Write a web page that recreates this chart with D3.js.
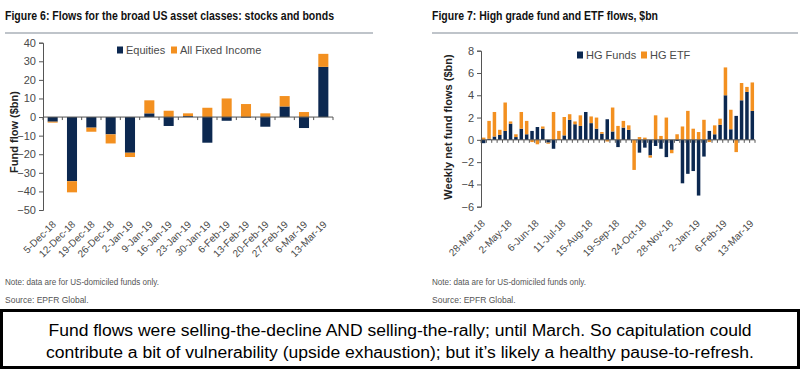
<!DOCTYPE html>
<html><head><meta charset="utf-8">
<script src="https://cdn.jsdelivr.net/npm/d3@7"></script>
<style>
body{margin:0;background:#fff;}
svg{display:block;}
text{font-family:"Liberation Sans Narrow","Arial Narrow","Liberation Sans",Arial,sans-serif;}
</style></head><body>
<svg id="c" width="800" height="370"></svg>
<script>
// ---------- Figure 6 data ----------
const leftCats = ["5-Dec-18","12-Dec-18","19-Dec-18","26-Dec-18","2-Jan-19","9-Jan-19","16-Jan-19","23-Jan-19","30-Jan-19","6-Feb-19","13-Feb-19","20-Feb-19","27-Feb-19","6-Mar-19","13-Mar-19"];
const equities    = [-2.5,-34.5,-5.7,-9.3,-19.2, 2.0,-4.8, 0.5,-13.8,-2.0,-0.3,-5.2, 5.7,-5.9,27.0];
const fixedIncome = [-0.5, -6.0,-2.2,-4.9, -2.3, 7.0, 3.4, 1.5,  5.0,10.0, 7.0, 2.0, 5.6, 2.7, 7.0];
const leftTicks = [40,30,20,10,0,-10,-20,-30,-40,-50];

// ---------- Figure 7 data ----------
const rightCats = ["28-Mar-18","4-Apr-18","11-Apr-18","18-Apr-18","25-Apr-18","2-May-18","9-May-18","16-May-18","23-May-18","30-May-18",
"6-Jun-18","13-Jun-18","20-Jun-18","27-Jun-18","4-Jul-18","11-Jul-18","18-Jul-18","25-Jul-18","1-Aug-18","8-Aug-18",
"15-Aug-18","22-Aug-18","29-Aug-18","5-Sep-18","12-Sep-18","19-Sep-18","26-Sep-18","3-Oct-18","10-Oct-18","17-Oct-18",
"24-Oct-18","31-Oct-18","7-Nov-18","14-Nov-18","21-Nov-18","28-Nov-18","5-Dec-18","12-Dec-18","19-Dec-18","26-Dec-18",
"2-Jan-19","9-Jan-19","16-Jan-19","23-Jan-19","30-Jan-19","6-Feb-19","13-Feb-19","20-Feb-19","27-Feb-19","6-Mar-19","13-Mar-19"];
const hgFunds = [-0.3,0.1,0.3,0.45,0.8,1.45,0.25,1.0,0.5,0.8,
 1.15,1.0,-0.25,-0.8,0.0,0.4,1.8,1.4,1.25,2.5,
 1.5,1.0,0.55,1.85,0.75,-0.65,1.1,0.9,0.0,-1.15,
 -0.7,-1.4,-0.55,-0.8,-1.55,-0.9,-0.1,-3.9,-3.05,-2.8,
 -5.0,-1.5,0.8,0.5,1.35,4.0,0.95,2.15,3.55,4.3,2.6];
const hgETF = [0.2,1.6,2.2,0.45,2.55,0.2,0.25,1.5,1.2,-0.2,
 -0.4,0.2,-0.1,2.5,0.8,1.65,0.5,0.25,0.95,0.0,
 0.6,1.0,0.15,-0.15,2.15,1.25,0.6,0.4,-2.7,0.25,
 0.2,-0.2,2.2,0.35,2.0,-0.3,0.5,1.2,2.6,1.0,
 0.7,1.8,-0.2,0.8,0.55,2.5,1.75,-1.1,1.55,0.45,2.55];
const rightTickLabels = ["28-Mar-18","2-May-18","6-Jun-18","11-Jul-18","15-Aug-18","19-Sep-18","24-Oct-18","28-Nov-18","2-Jan-19","6-Feb-19","13-Mar-19"];
const rightTicks = [8,6,4,2,0,-2,-4,-6];

const DARK = "#0c2850", ORANGE = "#f39020", AX = "#555", LBL = "#4a4a4a";
const svg = d3.select("#c");

// ---------- Titles ----------
svg.append("text").attr("x",5).attr("y",20).attr("font-size",12.5).attr("font-weight","bold").attr("fill","#111")
  .attr("textLength",329).attr("lengthAdjust","spacingAndGlyphs")
  .text("Figure 6: Flows for the broad US asset classes: stocks and bonds");
svg.append("line").attr("x1",5).attr("x2",373).attr("y1",33).attr("y2",33).attr("stroke","#aab0b8").attr("stroke-width",1.5);
svg.append("text").attr("x",432).attr("y",20).attr("font-size",12.5).attr("font-weight","bold").attr("fill","#111")
  .attr("textLength",226).attr("lengthAdjust","spacingAndGlyphs")
  .text("Figure 7: High grade fund and ETF flows, $bn");
svg.append("line").attr("x1",432).attr("x2",798).attr("y1",33).attr("y2",33).attr("stroke","#aab0b8").attr("stroke-width",1.5);

function drawChart(cfg){
  const g = svg.append("g");
  const x = d3.scaleBand().domain(cfg.cats).range([cfg.x0,cfg.x1]).paddingInner(cfg.pad).paddingOuter(cfg.pad/2);
  const y = d3.scaleLinear().domain(cfg.dom).range([cfg.yb,cfg.yt]);
  const rows = cfg.cats.map((c,i)=>({cat:c,a:cfg.a[i],b:cfg.b[i]}));
  const stack = d3.stack().keys(["a","b"]).offset(d3.stackOffsetDiverging)(rows);
  const cols = [DARK,ORANGE];
  stack.forEach((s,k)=>{
    g.append("g").attr("fill",cols[k]).selectAll("rect").data(s).join("rect")
      .attr("x",d=>x(d.data.cat)).attr("width",x.bandwidth())
      .attr("y",d=>y(Math.max(d[0],d[1]))).attr("height",d=>Math.abs(y(d[0])-y(d[1])));
  });
  // y axis
  const ya = g.append("g").attr("transform",`translate(${cfg.x0},0)`)
    .call(d3.axisLeft(y).tickValues(cfg.yticks).tickSize(4).tickPadding(3).tickFormat(d3.format("d")));
  ya.select(".domain").attr("stroke",AX);
  ya.selectAll(".tick line").attr("stroke",AX);
  ya.selectAll("text").attr("font-size",11).attr("fill",LBL).attr("font-family","Liberation Sans, Arial, sans-serif");
  // zero line with ticks at band boundaries
  const bounds = d3.range(cfg.cats.length+1).map(i=>cfg.x0 + i*(cfg.x1-cfg.x0)/cfg.cats.length);
  g.append("line").attr("x1",cfg.x0).attr("x2",cfg.x1).attr("y1",y(0)).attr("y2",y(0)).attr("stroke",AX);
  g.append("g").selectAll("line").data(bounds).join("line")
    .attr("x1",d=>d).attr("x2",d=>d).attr("y1",y(0)).attr("y2",y(0)+3).attr("stroke",AX);
  // x labels
  g.append("g").selectAll("text").data(cfg.labels).join("text")
    .attr("transform",d=>`translate(${x(d)+x.bandwidth()/2+cfg.lx},${cfg.ly}) rotate(-45)`)
    .attr("text-anchor","end").attr("font-size",cfg.lfs).attr("fill",LBL)
    .attr("font-family","Liberation Sans, Arial, sans-serif").text(d=>d);
  // y title
  g.append("text").attr("transform",`translate(${cfg.ytx},${cfg.yty}) rotate(-90)`)
    .attr("text-anchor","middle").attr("font-size",11).attr("font-weight","bold").attr("fill","#222")
    .attr("font-family","Liberation Sans, Arial, sans-serif").text(cfg.ytitle);
  // legend
  cfg.legend.forEach(L=>{
    g.append("rect").attr("x",L.x).attr("y",L.y-4).attr("width",6).attr("height",7).attr("fill",L.c);
    g.append("text").attr("x",L.x+9).attr("y",L.y+3.5).attr("font-size",11).attr("fill",LBL)
      .attr("font-family","Liberation Sans, Arial, sans-serif").text(L.t);
  });
  // notes
  g.append("text").attr("x",cfg.nx).attr("y",285).attr("font-size",8.5).attr("fill","#555")
    .attr("textLength",154).attr("lengthAdjust","spacingAndGlyphs").text("Note: data are for US-domiciled funds only.");
  g.append("text").attr("x",cfg.nx).attr("y",303).attr("font-size",8.5).attr("fill","#555")
    .text("Source: EPFR Global.");
}

drawChart({cats:leftCats,a:equities,b:fixedIncome,x0:43,x1:333,yt:42.7,yb:210,dom:[-50,40],pad:0.48,
  yticks:leftTicks,labels:leftCats,lx:4,ly:225,lfs:10,ytx:18,yty:132,ytitle:"Fund flow ($bn)",
  legend:[{x:117,y:50.5,c:DARK,t:"Equities"},{x:171,y:50.5,c:ORANGE,t:"All Fixed Income"}],nx:5});

drawChart({cats:rightCats,a:hgFunds,b:hgETF,x0:481,x1:755,yt:50.7,yb:206.7,dom:[-6,8],pad:0.35,
  yticks:rightTicks,labels:rightTickLabels,lx:2,ly:224,lfs:10,ytx:452,yty:127,ytitle:"Weekly net fund flows ($bn)",
  legend:[{x:577,y:55.5,c:DARK,t:"HG Funds"},{x:641,y:55.5,c:ORANGE,t:"HG ETF"}],nx:432});

// ---------- Bottom box ----------
svg.append("rect").attr("x",1.5).attr("y",310.5).attr("width",797).attr("height",57).attr("fill","none")
  .attr("stroke","#000").attr("stroke-width",3);
svg.append("text").attr("x",400).attr("y",336).attr("text-anchor","middle").attr("font-size",16).attr("fill","#000")
  .attr("font-family","Liberation Sans, Arial, sans-serif")
  .attr("textLength",703).attr("lengthAdjust","spacingAndGlyphs")
  .text("Fund flows were selling-the-decline AND selling-the-rally; until March. So capitulation could");
svg.append("text").attr("x",400).attr("y",358).attr("text-anchor","middle").attr("font-size",16).attr("fill","#000")
  .attr("font-family","Liberation Sans, Arial, sans-serif")
  .attr("textLength",708).attr("lengthAdjust","spacingAndGlyphs")
  .text("contribute a bit of vulnerability (upside exhaustion); but it’s likely a healthy pause-to-refresh.");
</script>
</body></html>
